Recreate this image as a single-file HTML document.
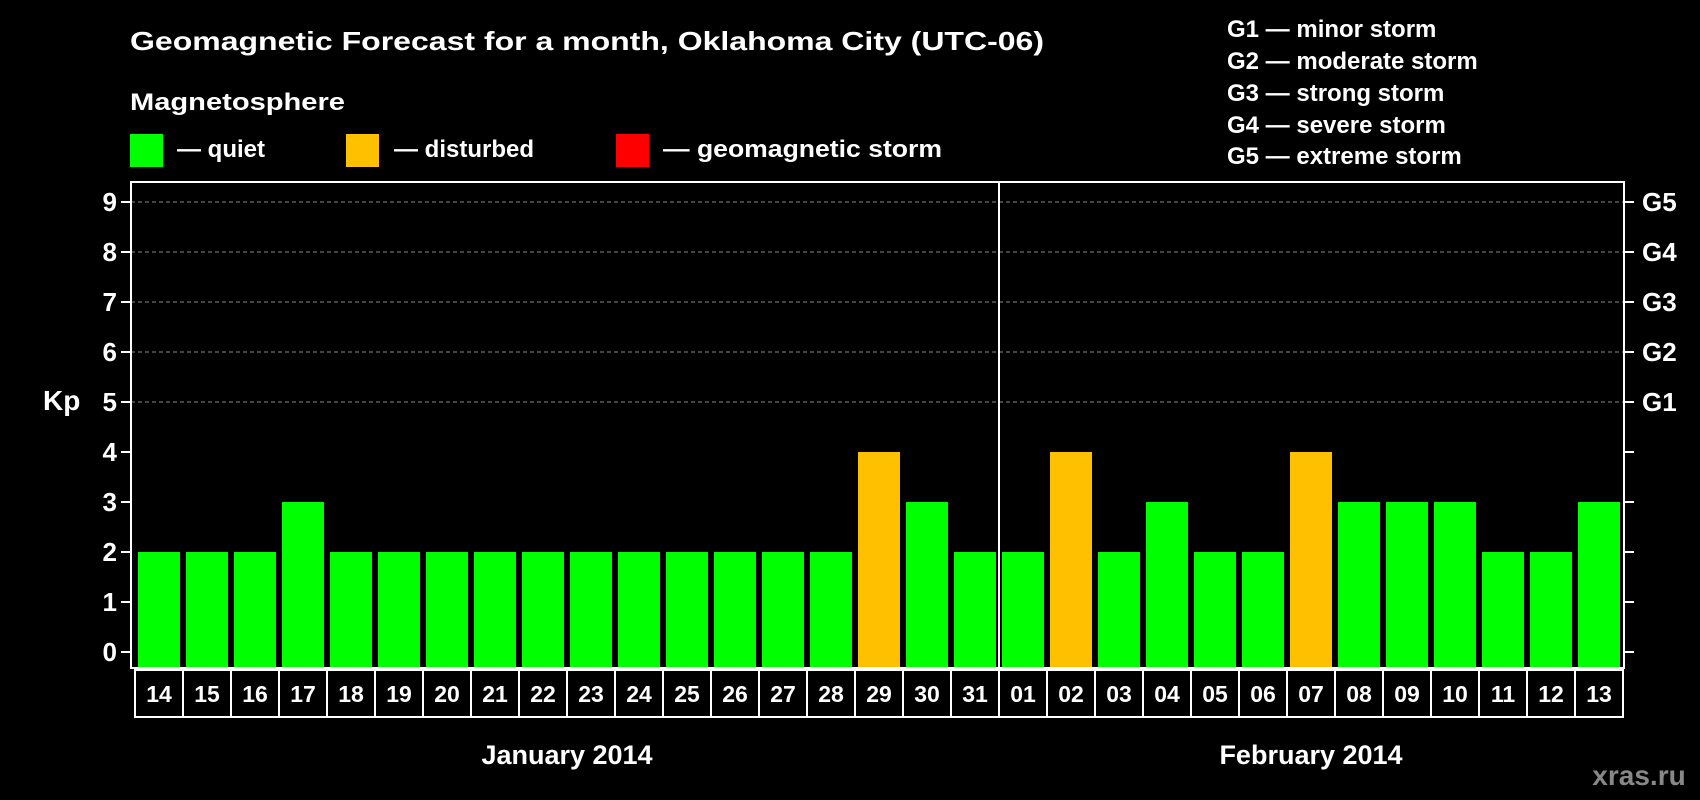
<!DOCTYPE html>
<html><head><meta charset="utf-8"><style>
html,body{margin:0;padding:0;background:#000;}
svg{display:block;font-family:"Liberation Sans",Arial,sans-serif;font-weight:bold;}
</style></head><body>
<svg id="chart" width="1700" height="800" viewBox="0 0 1700 800">
<rect x="0" y="0" width="1700" height="800" fill="#000"/>
<text x="130" y="50" fill="#fff" font-size="26" textLength="914" lengthAdjust="spacingAndGlyphs">Geomagnetic Forecast for a month, Oklahoma City (UTC-06)</text>
<text x="130" y="110" fill="#fff" font-size="24" textLength="215" lengthAdjust="spacingAndGlyphs">Magnetosphere</text>
<g><rect x="130" y="134" width="33" height="33" fill="#00ff00"/><text x="177" y="157" fill="#fff" font-size="24">— quiet</text></g>
<g><rect x="346" y="134" width="33" height="33" fill="#ffc000"/><text x="394" y="157" fill="#fff" font-size="24">— disturbed</text></g>
<g><rect x="616" y="134" width="33" height="33" fill="#ff0000"/><text x="663" y="157" fill="#fff" font-size="24" textLength="279" lengthAdjust="spacingAndGlyphs">— geomagnetic storm</text></g>
<g fill="#fff" font-size="24">
<text x="1227" y="37">G1 — minor storm</text>
<text x="1227" y="69">G2 — moderate storm</text>
<text x="1227" y="101">G3 — strong storm</text>
<text x="1227" y="133">G4 — severe storm</text>
<text x="1227" y="164">G5 — extreme storm</text>
</g>
<text x="43" y="410" fill="#fff" font-size="28">Kp</text>
<text x="1639" y="785" fill="#888" font-size="28" text-anchor="middle">xras.ru</text>
<g id="grid"></g><g id="bars"></g><g id="axes"></g>
</svg>
<script>
const days = ["14","15","16","17","18","19","20","21","22","23","24","25","26","27","28","29","30","31","01","02","03","04","05","06","07","08","09","10","11","12","13"];
const kpValues = [2,2,2,3,2,2,2,2,2,2,2,2,2,2,2,4,3,2,2,4,2,3,2,2,4,3,3,3,2,2,3];
const yTicks = [0,1,2,3,4,5,6,7,8,9];
const gLabels = ["G1","G2","G3","G4","G5"];
const months = ["January 2014","February 2014"];
const monthDayCounts = [18,13];

const NS="http://www.w3.org/2000/svg";
const L=131,R=1624,T=182,B=668,slot0=135,slotW=48;
const y=v=>652-v*50;
const x=i=>slot0+i*slotW;
function mk(tag,attrs,parent){const e=document.createElementNS(NS,tag);for(const k in attrs)e.setAttribute(k,attrs[k]);parent.appendChild(e);return e;}
const grid=document.getElementById('grid'),bars=document.getElementById('bars'),axes=document.getElementById('axes');
for(let v=5;v<=9;v++){
  const g=mk('line',{x1:L,x2:R,y1:y(v),y2:y(v),stroke:'#888','stroke-dasharray':'4,3','stroke-width':1},grid);
  
  
}
kpValues.forEach((v,i)=>{
  const r=mk('rect',{x:x(i)+3,y:y(v),width:slotW-6,height:B-y(v),fill:v>=5?'#ff0000':(v>=4?'#ffc000':'#00ff00')},bars);
  
  
});
const box=mk('rect',{x:L,y:T,width:R-L,height:B-T,fill:'none',stroke:'#fff','stroke-width':2},axes);


const div=mk('line',{x1:x(monthDayCounts[0]),x2:x(monthDayCounts[0]),y1:T,y2:B,stroke:'#fff','stroke-width':2},axes);


yTicks.forEach(v=>{
  mk('line',{x1:L-10,x2:L,y1:y(v),y2:y(v),stroke:'#fff','stroke-width':2},axes);
  mk('line',{x1:R,x2:R+10,y1:y(v),y2:y(v),stroke:'#fff','stroke-width':2},axes);
  const t=mk('text',{x:117,y:y(v)+9,fill:'#fff','font-size':26,'text-anchor':'end'},axes);
  t.textContent=v;
  
  
});
gLabels.forEach((g,i)=>{
  const t=mk('text',{x:1642,y:y(5+i)+9,fill:'#fff','font-size':26},axes);
  t.textContent=g;
  
  
});
days.forEach((d,i)=>{
  const c=mk('rect',{x:x(i),y:670,width:slotW,height:47,fill:'#000',stroke:'#fff','stroke-width':2},axes);
  
  
  const t=mk('text',{x:x(i)+slotW/2,y:702,fill:'#fff','font-size':23,'text-anchor':'middle'},axes);
  t.textContent=d;
  
  
});
let start=0;
months.forEach((m,k)=>{
  const cx=x(start)+monthDayCounts[k]*slotW/2;
  const t=mk('text',{x:cx,y:764,fill:'#fff','font-size':27,'text-anchor':'middle'},axes);
  t.textContent=m;
  
  
  start+=monthDayCounts[k];
});
</script>
</body></html>
